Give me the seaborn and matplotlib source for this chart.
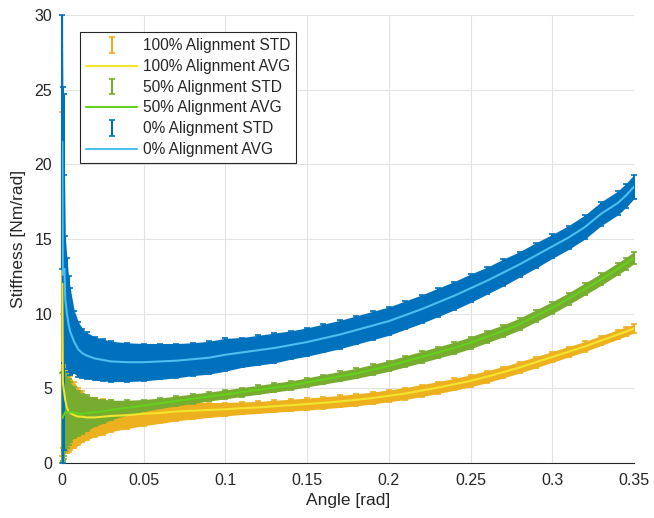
import numpy as np
import pandas as pd
import matplotlib
matplotlib.use("Agg")
import matplotlib.pyplot as plt
import seaborn as sns

# ---------------- data ----------------
angle = [0.0002, 0.0005, 0.001, 0.0015, 0.002, 0.003, 0.004, 0.005, 0.0075,
         0.01, 0.0125, 0.015, 0.02, 0.025, 0.03, 0.04, 0.05, 0.06, 0.07, 0.08,
         0.09, 0.10, 0.11, 0.12, 0.13, 0.14, 0.15, 0.16, 0.17, 0.18, 0.19,
         0.20, 0.21, 0.22, 0.23, 0.24, 0.25, 0.26, 0.27, 0.28, 0.29, 0.30,
         0.31, 0.32, 0.33, 0.34, 0.345, 0.35]

avg100 = [12.0, 5.5, 5.0, 4.6, 4.2, 3.7, 3.45, 3.35, 3.2,
          3.1, 3.1, 3.05, 3.05, 3.1, 3.15, 3.2, 3.3, 3.35, 3.45, 3.5,
          3.55, 3.6, 3.67, 3.72, 3.8, 3.87, 3.95, 4.03, 4.12, 4.23, 4.35,
          4.5, 4.65, 4.85, 5.05, 5.27, 5.5, 5.78, 6.08, 6.4, 6.75, 7.1,
          7.45, 7.8, 8.2, 8.6, 8.8, 9.0]
std100 = [11.5, 4.5, 4.2, 3.9, 3.5, 3.0, 2.7, 2.45, 2.2,
          1.9, 1.7, 1.5, 1.3, 1.2, 1.05, 0.9, 0.8, 0.7, 0.62, 0.56,
          0.5, 0.45, 0.42, 0.4, 0.4, 0.4, 0.4, 0.4, 0.4, 0.4, 0.4,
          0.4, 0.4, 0.4, 0.4, 0.4, 0.4, 0.4, 0.38, 0.38, 0.37, 0.36,
          0.35, 0.34, 0.33, 0.32, 0.31, 0.3]

avg50 = [3.0, 3.1, 3.2, 3.3, 3.4, 3.4, 3.4, 3.4, 3.4,
         3.3, 3.3, 3.35, 3.4, 3.45, 3.55, 3.7, 3.85, 4.0, 4.15, 4.3,
         4.45, 4.6, 4.75, 4.9, 5.05, 5.2, 5.4, 5.6, 5.8, 6.0, 6.25,
         6.5, 6.8, 7.1, 7.4, 7.7, 8.05, 8.45, 8.85, 9.3, 9.85, 10.4,
         11.0, 11.65, 12.3, 13.0, 13.35, 13.75]
std50 = [3.0, 3.0, 2.9, 2.8, 2.6, 2.4, 2.2, 2.0, 1.7,
         1.5, 1.35, 1.2, 0.95, 0.8, 0.65, 0.5, 0.4, 0.35, 0.33, 0.32,
         0.3, 0.3, 0.3, 0.3, 0.3, 0.3, 0.3, 0.32, 0.33, 0.34, 0.35,
         0.36, 0.37, 0.38, 0.38, 0.39, 0.4, 0.4, 0.4, 0.4, 0.4, 0.4,
         0.4, 0.4, 0.4, 0.4, 0.4, 0.4]

avg0 = [21.5, 12.6, 12.8, 13.0, 11.0, 10.0, 9.3, 8.8, 8.1,
        7.6, 7.35, 7.2, 7.0, 6.9, 6.8, 6.75, 6.75, 6.8, 6.85, 6.95,
        7.05, 7.25, 7.4, 7.55, 7.7, 7.9, 8.1, 8.35, 8.6, 8.9, 9.2,
        9.5, 9.9, 10.3, 10.75, 11.2, 11.7, 12.2, 12.75, 13.3, 13.9, 14.5,
        15.1, 15.8, 16.7, 17.4, 17.9, 18.5]
std0 = [8.5, 12.6, 11.9, 6.3, 4.2, 3.7, 3.2, 2.9, 2.1,
        1.85, 1.65, 1.55, 1.45, 1.4, 1.35, 1.3, 1.25, 1.2, 1.15, 1.1,
        1.1, 1.1, 1.0, 1.0, 1.0, 0.95, 0.95, 0.95, 0.95, 0.95, 0.95,
        0.95, 0.95, 0.95, 0.95, 0.95, 0.95, 0.9, 0.9, 0.85, 0.85, 0.8,
        0.8, 0.8, 0.8, 0.8, 0.8, 0.8]

series_names = ["100% Alignment", "50% Alignment", "0% Alignment"]
x_ticks = [0, 0.05, 0.1, 0.15, 0.2, 0.25, 0.3, 0.35]
x_tick_labels = ["0", "0.05", "0.1", "0.15", "0.2", "0.25", "0.3", "0.35"]
y_ticks = [0, 5, 10, 15, 20, 25, 30]

# ---------------- style ----------------
sns.set_style("white")
plt.rcParams["font.family"] = ["Liberation Sans", "DejaVu Sans"]

std_colors = ["#EDB120", "#77AC30", "#0072BD"]
avg_colors = ["#F2E52E", "#62D21C", "#4DBEEE"]

df = pd.DataFrame({
    "angle": angle,
    "avg100": avg100, "std100": std100,
    "avg50": avg50, "std50": std50,
    "avg0": avg0, "std0": std0,
})

fig = plt.figure(figsize=(6.54, 5.18), dpi=100)
ax = fig.add_axes([0.0948, 0.1062, 0.8746, 0.8649])

handles, labels = [], []
for name, key, cs, ca in zip(series_names, ["100", "50", "0"], std_colors, avg_colors):
    m = df["avg" + key].to_numpy()
    s = df["std" + key].to_numpy()
    xx = df["angle"].to_numpy()
    ax.fill_between(xx, m - s, m + s, color=cs, linewidth=0, zorder=2)
    eb = ax.errorbar(xx, m, yerr=s, fmt="none", ecolor=cs, elinewidth=1.5,
                     capsize=2.2, capthick=1.2, zorder=2)
    for art in list(eb[1]) + list(eb[2]):
        art.set_clip_on(False)
    handles.append(eb)
    labels.append(name + " STD")
    sns.lineplot(data=df, x="angle", y="avg" + key, ax=ax, color=ca,
                 linewidth=1.5, sort=False, estimator=None, zorder=3)
    handles.append(ax.lines[-1])
    labels.append(name + " AVG")

ax.set_xlim(0, 0.35)
ax.set_ylim(0, 30)
ax.set_xticks(x_ticks)
ax.set_xticklabels(x_tick_labels)
ax.set_yticks(y_ticks)
ax.grid(True, color="#e3e3e3", linewidth=0.8)
ax.set_axisbelow(True)
for sp in ["top", "right"]:
    ax.spines[sp].set_visible(False)
for sp in ["left", "bottom"]:
    ax.spines[sp].set_color("#262626")
    ax.spines[sp].set_linewidth(0.8)
    ax.spines[sp].set_zorder(1)
ax.tick_params(axis="both", direction="in", length=4, width=0.8,
               colors="#262626", labelsize=11.5, pad=7)
ax.set_xlabel("Angle [rad]", fontsize=12.5, color="#262626", labelpad=4)
ax.set_ylabel("Stiffness [Nm/rad]", fontsize=12.5, color="#262626", labelpad=6)

leg = ax.legend(handles, labels, loc="upper left", bbox_to_anchor=(0.031, 0.962),
                fontsize=11.2, frameon=True, fancybox=False, framealpha=1,
                edgecolor="#262626", handlelength=3.3, handletextpad=0.35,
                labelspacing=0.37, borderpad=0.4, borderaxespad=0)
leg.get_frame().set_linewidth(0.8)
leg.set_zorder(5)

fig.savefig("out.png", dpi=100)
